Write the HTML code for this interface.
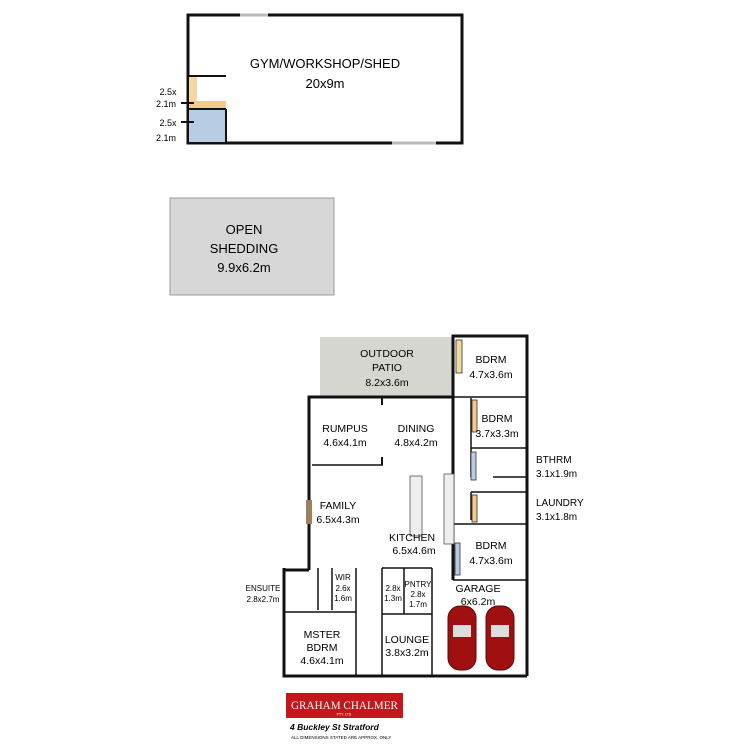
<!DOCTYPE html>
<html><head><style>
html,body{margin:0;padding:0;background:#fff;}
svg{display:block;font-family:"Liberation Sans",sans-serif;}
</style></head><body>
<svg width="750" height="750" viewBox="0 0 750 750">
<!-- Shed -->
<rect x="188" y="15" width="274" height="128" fill="#fff" stroke="#111" stroke-width="3"/>
<line x1="240" y1="15" x2="268" y2="15" stroke="#bbb" stroke-width="3"/>
<line x1="392" y1="143" x2="436" y2="143" stroke="#bbb" stroke-width="3"/>
<line x1="188" y1="76" x2="226" y2="76" stroke="#111" stroke-width="2"/>
<rect x="189" y="77" width="8" height="24" fill="#f3d9a0"/>
<rect x="189" y="101" width="37" height="8" fill="#f6c98a"/>
<rect x="189" y="110" width="36" height="32" fill="#b8cde3"/>
<line x1="188" y1="109" x2="226" y2="109" stroke="#111" stroke-width="2"/>
<line x1="226" y1="109" x2="226" y2="143" stroke="#111" stroke-width="2"/>
<text x="325" y="68" font-size="13" text-anchor="middle">GYM/WORKSHOP/SHED</text>
<text x="325" y="88" font-size="13" text-anchor="middle">20x9m</text>
<text x="168" y="95" font-size="9" text-anchor="middle">2.5x</text>
<text x="166" y="107" font-size="9" text-anchor="middle">2.1m</text>
<text x="168" y="126" font-size="9" text-anchor="middle">2.5x</text>
<text x="166" y="141" font-size="9" text-anchor="middle">2.1m</text>
<line x1="181" y1="103" x2="194" y2="103" stroke="#111" stroke-width="2"/>
<line x1="181" y1="122" x2="194" y2="122" stroke="#111" stroke-width="2"/>
<!-- Open shedding -->
<rect x="170" y="198" width="164" height="97" fill="#d7d7d7" stroke="#999" stroke-width="1"/>
<text x="244" y="234" font-size="13" text-anchor="middle">OPEN</text>
<text x="244" y="253" font-size="13" text-anchor="middle">SHEDDING</text>
<text x="244" y="272" font-size="13" text-anchor="middle">9.9x6.2m</text>
<!-- Patio -->
<rect x="320" y="337" width="133" height="60" fill="#d6d6d0"/>
<text x="387" y="357" font-size="10.5" text-anchor="middle">OUTDOOR</text>
<text x="387" y="371" font-size="10.5" text-anchor="middle">PATIO</text>
<text x="387" y="386" font-size="10.5" text-anchor="middle">8.2x3.6m</text>
<!-- main walls -->
<g stroke="#111" fill="none">
<polyline points="309,570 309,397 453,397" stroke-width="3"/>
<polyline points="453,580 453,336 527,336 527,676" stroke-width="3"/>
<line x1="309" y1="570" x2="284" y2="570" stroke-width="3"/>
<polyline points="284,568 284,676 527,676" stroke-width="3"/>
<line x1="312" y1="465" x2="383" y2="465" stroke-width="1.5"/>
<line x1="382" y1="397" x2="382" y2="405" stroke-width="2"/>
<line x1="382" y1="457" x2="382" y2="465" stroke-width="2"/>
<line x1="453" y1="397" x2="527" y2="397" stroke-width="1.5"/>
<line x1="471" y1="398" x2="471" y2="448" stroke-width="1.5"/>
<line x1="471" y1="448" x2="527" y2="448" stroke-width="1.5"/>
<line x1="471" y1="448" x2="471" y2="477" stroke-width="1.5"/>
<line x1="493" y1="477" x2="527" y2="477" stroke-width="1.5"/>
<line x1="471" y1="492" x2="527" y2="492" stroke-width="1.5"/>
<line x1="471" y1="492" x2="471" y2="520" stroke-width="1.5"/>
<line x1="453" y1="524" x2="527" y2="524" stroke-width="1.5"/>
<line x1="453" y1="580" x2="527" y2="580" stroke-width="1.5"/>
<line x1="284" y1="612" x2="356" y2="612" stroke-width="1.5"/>
<line x1="356" y1="568" x2="356" y2="676" stroke-width="1.5"/>
<line x1="318" y1="568" x2="318" y2="610" stroke-width="1.5"/>
<line x1="332" y1="568" x2="332" y2="610" stroke-width="1.5"/>
<line x1="382" y1="568" x2="382" y2="676" stroke-width="1.5"/>
<line x1="382" y1="568" x2="432" y2="568" stroke-width="1.5"/>
<line x1="432" y1="568" x2="432" y2="676" stroke-width="1.5"/>
<line x1="382" y1="614" x2="432" y2="614" stroke-width="1.5"/>
<line x1="404" y1="568" x2="404" y2="614" stroke-width="1.5"/>
</g>
<!-- closets / fixtures -->
<rect x="456" y="340" width="6" height="33" fill="#f3d9a0" stroke="#333" stroke-width="0.8"/>
<rect x="472" y="400" width="5" height="32" fill="#f6c98a" stroke="#333" stroke-width="0.8"/>
<rect x="471" y="452" width="5" height="28" fill="#b8cde3" stroke="#333" stroke-width="0.8"/>
<rect x="472" y="495" width="5" height="27" fill="#f6c98a" stroke="#333" stroke-width="0.8"/>
<rect x="455" y="543" width="5" height="32" fill="#b8cde3" stroke="#333" stroke-width="0.8"/>
<rect x="410" y="476" width="12" height="60" fill="#eee" stroke="#555" stroke-width="0.8"/>
<rect x="444" y="474" width="10" height="70" fill="#eee" stroke="#555" stroke-width="0.8"/>
<rect x="306" y="500" width="6" height="24" fill="#a08060"/>
<!-- labels -->
<g font-size="10.5" text-anchor="middle">
<text x="491" y="363">BDRM</text><text x="491" y="378">4.7x3.6m</text>
<text x="497" y="422">BDRM</text><text x="497" y="437">3.7x3.3m</text>
<text x="345" y="432">RUMPUS</text><text x="345" y="446">4.6x4.1m</text>
<text x="416" y="432">DINING</text><text x="416" y="446">4.8x4.2m</text>
<text x="338" y="509">FAMILY</text><text x="338" y="523">6.5x4.3m</text>
<text x="412" y="541">KITCHEN</text><text x="414" y="554">6.5x4.6m</text>
<text x="491" y="549">BDRM</text><text x="491" y="564">4.7x3.6m</text>
<text x="478" y="592">GARAGE</text><text x="478" y="605">6x6.2m</text>
<text x="322" y="638">MSTER</text><text x="322" y="651">BDRM</text><text x="322" y="664">4.6x4.1m</text>
<text x="407" y="643">LOUNGE</text><text x="407" y="656">3.8x3.2m</text>
</g>
<g font-size="10">
<text x="536" y="463">BTHRM</text><text x="536" y="477">3.1x1.9m</text>
<text x="536" y="506">LAUNDRY</text><text x="536" y="520">3.1x1.8m</text>
</g>
<g font-size="8" text-anchor="middle">
<text x="263" y="591">ENSUITE</text><text x="263" y="602">2.8x2.7m</text>
<text x="343" y="580">WIR</text><text x="343" y="591">2.6x</text><text x="343" y="601">1.6m</text>
<text x="393" y="591">2.8x</text><text x="393" y="601">1.3m</text>
<text x="418" y="587">PNTRY</text><text x="418" y="597">2.8x</text><text x="418" y="607">1.7m</text>
</g>
<!-- cars -->
<g fill="#a01010" stroke="#5a0808" stroke-width="1">
<rect x="448" y="606" width="28" height="64" rx="12"/>
<rect x="486" y="606" width="28" height="64" rx="12"/>
</g>
<rect x="453" y="625" width="18" height="12" fill="#ddd"/>
<rect x="491" y="625" width="18" height="12" fill="#ddd"/>
<!-- logo -->
<rect x="286" y="693" width="117" height="25" fill="#c4161c"/>
<text x="291" y="709" font-size="12" fill="#fff" textLength="107" lengthAdjust="spacingAndGlyphs" font-family="Liberation Serif,serif">GRAHAM CHALMER</text>
<text x="344" y="715.5" font-size="3.5" fill="#fff" text-anchor="middle">PTY. LTD</text>
<text x="290" y="730" font-size="8.5" font-weight="bold" font-style="italic">4 Buckley St Stratford</text>
<text x="291" y="739" font-size="4.5">ALL DIMENSIONS STATED ARE APPROX. ONLY</text>
</svg>
</body></html>
